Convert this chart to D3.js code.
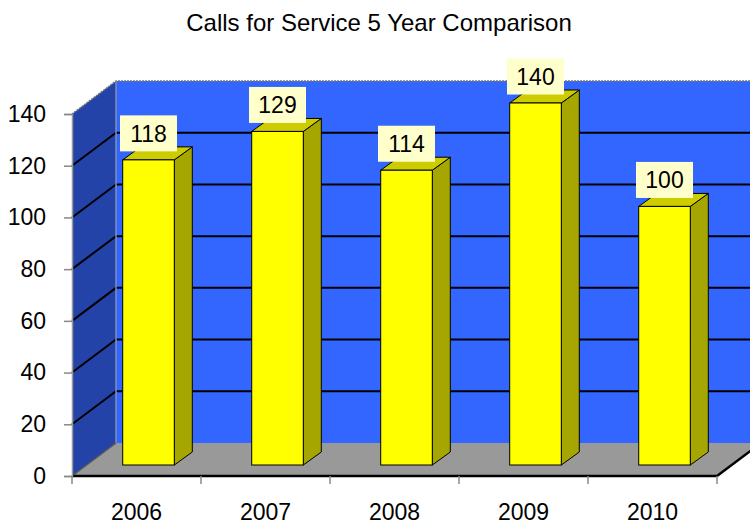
<!DOCTYPE html>
<html>
<head>
<meta charset="utf-8">
<script src="https://cdn.jsdelivr.net/npm/d3@7"></script>
<style>
	body{margin:0;background:#fff;}
	svg{display:block;font-family:"Liberation Sans",Arial,sans-serif;}
</style>
</head>
<body>
<svg id="chart" width="750" height="527"></svg>
<script>
var years = ["2006","2007","2008","2009","2010"];
var calls = [118,129,114,140,100];
var yTicks = [0,20,40,60,80,100,120,140];
var title = "Calls for Service 5 Year Comparison";

var W = 750, H = 527;
var left = 72, right = 717, floorY = 476, topY = 114;
var dx = 44, dy = 33;       // depth of the box
var zx = 12, zy = 11;       // bar front offset into the box
var bx = 18, by = 13;       // bar depth

var svg = d3.select("#chart");
var y = d3.scaleLinear().domain([0,140]).range([floorY,topY]);
var x = d3.scaleBand().domain(years).range([left,right]).paddingInner(0.6).paddingOuter(0.3);
var xc = d3.scaleBand().domain(years).range([left,right]);

function poly(pts){ return "M"+pts.map(function(p){return p.join(",");}).join("L")+"Z"; }

// back wall
svg.append("path").attr("d",poly([[left+dx,y(140)-dy],[W+60,y(140)-dy],[W+60,y(0)-dy],[left+dx,y(0)-dy]]))
	.attr("fill","#3366ff");
// side wall
svg.append("path").attr("d",poly([[left,y(140)],[left+dx,y(140)-dy],[left+dx,y(0)-dy],[left,y(0)]]))
	.attr("fill","#2343a8");
// floor
svg.append("path").attr("d",poly([[left,y(0)],[left+dx,y(0)-dy],[right+dx,y(0)-dy],[right,y(0)]]))
	.attr("fill","#999999");

// gridlines
var grid = svg.append("g");
yTicks.filter(function(v){return v>0 && v<140;}).forEach(function(v){
	grid.append("path").attr("d","M"+left+","+y(v)+"L"+(left+dx)+","+(y(v)-dy)+"L"+(W+10)+","+(y(v)-dy))
		.attr("fill","none").attr("stroke","#000").attr("stroke-width",2);
});
// top edges
svg.append("path").attr("d","M"+left+","+y(140)+"L"+(left+dx)+","+(y(140)-dy)+"L"+(W+10)+","+(y(140)-dy))
	.attr("fill","none").attr("stroke","#777").attr("stroke-width",1.5).attr("stroke-dasharray","2,1");
// wall corner
svg.append("line").attr("x1",left+dx).attr("x2",left+dx).attr("y1",y(140)-dy).attr("y2",y(0)-dy)
	.attr("stroke","#8090b0").attr("stroke-width",1.5);
// floor edges
svg.append("path").attr("d","M"+left+","+y(0)+"L"+(left+dx)+","+(y(0)-dy))
	.attr("fill","none").attr("stroke","#555").attr("stroke-width",1.5);
svg.append("path").attr("d","M"+left+","+y(0)+"L"+right+","+y(0)+"L"+(right+dx)+","+(y(0)-dy))
	.attr("fill","none").attr("stroke","#000").attr("stroke-width",2.5);

// bars
var bars = svg.append("g").selectAll("g").data(years).enter().append("g");
bars.each(function(yr,i){
	var g = d3.select(this);
	var x0 = x(yr)+zx, x1 = x0+x.bandwidth();
	var yb = y(0)-zy, yt = y(calls[i])-zy;
	g.append("path").attr("d",poly([[x1,yb],[x1+bx,yb-by],[x1+bx,yt-by],[x1,yt]]))
		.attr("fill","#a6a600").attr("stroke","#000").attr("stroke-width",1);
	g.append("path").attr("d",poly([[x0,yt],[x0+bx,yt-by],[x1+bx,yt-by],[x1,yt]]))
		.attr("fill","#cccc00").attr("stroke","#000").attr("stroke-width",1);
	g.append("rect").attr("x",x0).attr("y",yt).attr("width",x1-x0).attr("height",yb-yt)
		.attr("fill","#ffff00").attr("stroke","#000").attr("stroke-width",1);
	var cx = (x0+x1)/2;
	g.append("rect").attr("x",cx-28.5).attr("y",yt-8.5-36).attr("width",57).attr("height",36)
		.attr("fill","#ffffcc");
	g.append("text").attr("x",cx).attr("y",yt-8.5-18).attr("dy","0.36em").attr("text-anchor","middle")
		.attr("font-size",23).text(calls[i]);
});

// y axis
var yAxis = svg.append("g").attr("transform","translate("+left+",0)")
	.call(d3.axisLeft(y).tickValues(yTicks).tickSize(8).tickPadding(18));
yAxis.select(".domain").attr("stroke","#999").attr("stroke-width",1.5);
yAxis.selectAll(".tick line").attr("stroke","#888").attr("stroke-width",1.5);
yAxis.selectAll("text").attr("font-size",23).attr("fill","#000").attr("font-family","Liberation Sans,Arial,sans-serif");

// x axis: boundary ticks and centered labels
var xb = svg.append("g");
d3.range(years.length+1).forEach(function(i){
	var px = left+i*xc.step();
	xb.append("line").attr("x1",px).attr("x2",px).attr("y1",y(0)).attr("y2",y(0)+8)
		.attr("stroke","#888").attr("stroke-width",1.5);
});
var xAxis = svg.append("g").attr("transform","translate(0,"+y(0)+")")
	.call(d3.axisBottom(xc).tickSize(0).tickPadding(28));
xAxis.select(".domain").remove();
xAxis.selectAll("text").attr("font-size",23).attr("fill","#000").attr("font-family","Liberation Sans,Arial,sans-serif");

// title
svg.append("text").attr("x",379).attr("y",31).attr("text-anchor","middle")
	.attr("font-size",24).text(title);
</script>
</body>
</html>
